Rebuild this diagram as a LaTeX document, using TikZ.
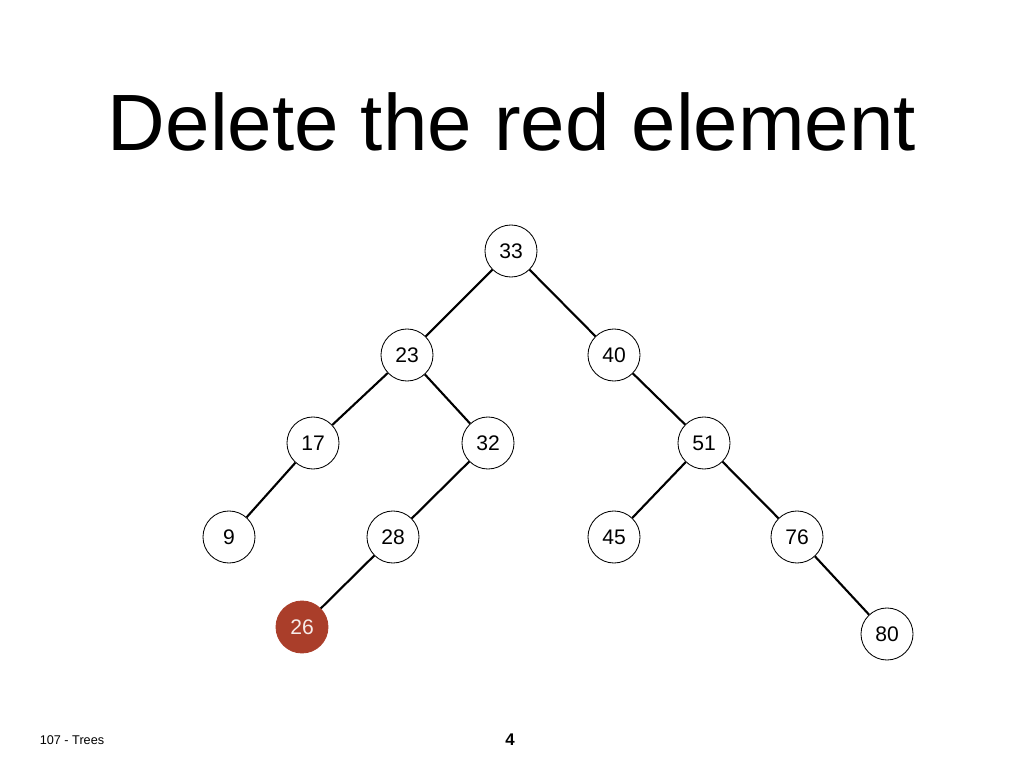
\documentclass[tikz,border=0pt]{standalone}
\usepackage{fontspec}
\setmainfont{Liberation Sans}
\usetikzlibrary{arrows}
\definecolor{del_red}{RGB}{170,62,42}

\begin{document}
\begin{tikzpicture}[x=0.025cm,y=-0.025cm,semithick]
    \tikzstyle{key}=[draw=black, circle, minimum size=37pt, inner sep=0pt, fill=white, text=black, font=\fontsize{15}{18}\selectfont]
    \tikzstyle{gone}=[key, fill=del_red, draw=del_red, text=white!90!del_red]
    \tikzstyle{link}=[draw=black, line width=1.5pt]
    \useasboundingbox (0,0) rectangle (1024,768);

    \node (title) at (512,122) {\fontsize{56.8}{68}\selectfont Delete the red element};

    \node[key]  (n33) at (511,251) {33};
    \node[key]  (n23) at (407,355) {23};
    \node[key]  (n40) at (614,355) {40};
    \node[key]  (n17) at (313,443) {17};
    \node[key]  (n32) at (488,443) {32};
    \node[key]  (n51) at (704,443) {51};
    \node[key]  (n9)  at (229,537) {9};
    \node[key]  (n28) at (393,537) {28};
    \node[key]  (n45) at (614,537) {45};
    \node[key]  (n76) at (797,537) {76};
    \node[gone] (n26) at (302,627) {26};
    \node[key]  (n80) at (887,634) {80};
    \path[link]
     (n33) edge (n23)
     (n33) edge (n40)
     (n23) edge (n17)
     (n23) edge (n32)
     (n17) edge (n9)
     (n32) edge (n28)
     (n28) edge (n26)
     (n40) edge (n51)
     (n51) edge (n45)
     (n51) edge (n76)
     (n76) edge (n80)
     ;

    \node (foot) at (72,740) {\fontsize{9}{11}\selectfont 107 - Trees};
    \node (page) at (510,740) {\fontsize{12}{14}\selectfont\bfseries 4};
\end{tikzpicture}
\end{document}
